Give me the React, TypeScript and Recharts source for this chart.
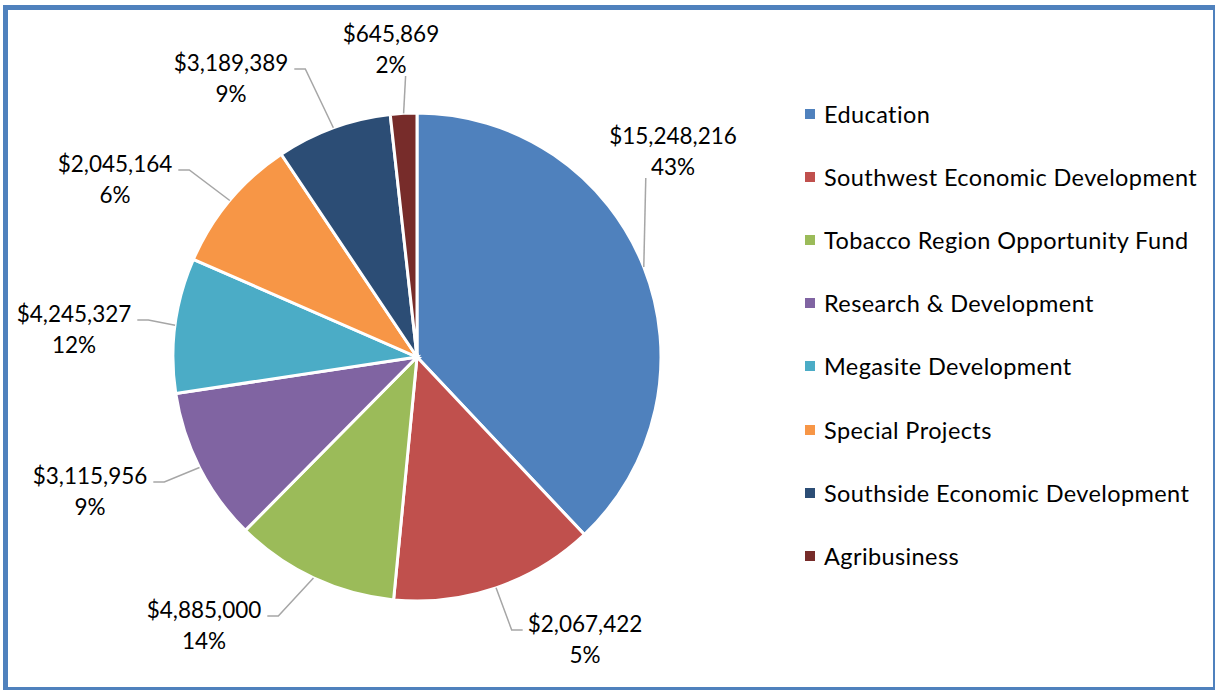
import React from "react";
import { PieChart, Pie, Cell, Legend } from "recharts";

// categories, in drawing order (clockwise from 12 o'clock)
const programs = [
  "Education",
  "Southwest Economic Development",
  "Tobacco Region Opportunity Fund",
  "Research & Development",
  "Megasite Development",
  "Special Projects",
  "Southside Economic Development",
  "Agribusiness",
];

// slice sizes as they are drawn in the picture (share of the circle, %)
const sliceShare = [37.97, 13.56, 10.89, 10.19, 8.94, 9.06, 7.64, 1.75];

// data label texts as printed on the chart
const amountLabels = [
  "$15,248,216",
  "$2,067,422",
  "$4,885,000",
  "$3,115,956",
  "$4,245,327",
  "$2,045,164",
  "$3,189,389",
  "$645,869",
];
const percentLabels = ["43%", "5%", "14%", "9%", "12%", "6%", "9%", "2%"];

const colors = ["#4F81BD", "#C0504D", "#9BBB59", "#8064A2", "#4BACC6", "#F79646", "#2C4D75", "#772C2A"];

const data = programs.map((name, i) => ({
  name,
  value: sliceShare[i],
  amount: amountLabels[i],
  pct: percentLabels[i],
}));

// where each data label sits, relative to the pie centre (excel "best fit")
const labelSpots = [
  { dx: 256, dy: -222, side: "below" },
  { dx: 168, dy: 266, side: "right" },
  { dx: -213, dy: 252, side: "left" },
  { dx: -327, dy: 118, side: "left" },
  { dx: -343, dy: -44, side: "left" },
  { dx: -302, dy: -194, side: "left" },
  { dx: -186, dy: -295, side: "left" },
  { dx: -26, dy: -324, side: "below" },
];

const FONT = "Lato, 'Open Sans', sans-serif";
const FS = 22.5;
const LEGEND_FS = 23.5;
const LINE_GAP = 31;
const RAD = Math.PI / 180;

let ctx: CanvasRenderingContext2D | null = null;
const textWidth = (s: string) => {
  if (!ctx) ctx = document.createElement("canvas").getContext("2d");
  if (!ctx) return s.length * FS * 0.55;
  ctx.font = `${FS}px Lato`;
  return ctx.measureText(s).width;
};

const renderLabel = (props: any) => {
  const { cx, cy, midAngle, outerRadius, index } = props;
  const spot = labelSpots[index];
  const d = data[index];
  const sx = cx + outerRadius * Math.cos(-midAngle * RAD);
  const sy = cy + outerRadius * Math.sin(-midAngle * RAD);
  const lx = cx + spot.dx;
  const ly = cy + spot.dy;
  const w = textWidth(d.amount);
  let pts: number[][];
  if (spot.side === "left") {
    const ex = lx + w / 2 + 6;
    const ey = ly + 7;
    pts = [[sx, sy], [ex + 11, ey], [ex, ey]];
  } else if (spot.side === "right") {
    const ex = lx - w / 2 - 5;
    const ey = ly + 7;
    pts = [[sx, sy], [ex - 11, ey], [ex, ey]];
  } else {
    pts = [[sx, sy], [sx + 2, ly + LINE_GAP + 12]];
  }
  return (
    <g key={`lbl-${index}`}>
      <polyline
        points={pts.map((p) => p.join(",")).join(" ")}
        fill="none"
        stroke="#A6A6A6"
        strokeWidth={1.5}
      />
      <text x={lx} y={ly} textAnchor="middle" dominantBaseline="central" fontFamily={FONT} fontSize={FS} fill="#000">
        {d.amount}
      </text>
      <text x={lx} y={ly + LINE_GAP} textAnchor="middle" dominantBaseline="central" fontFamily={FONT} fontSize={FS} fill="#000">
        {d.pct}
      </text>
    </g>
  );
};

const renderLegend = () => (
  <div style={{ fontFamily: FONT, fontSize: LEGEND_FS, letterSpacing: 0.4, color: "#000" }}>
    {programs.map((p, i) => (
      <div key={p} style={{ height: 63.2, display: "flex", alignItems: "center", whiteSpace: "nowrap" }}>
        <span style={{ width: 10, height: 10, background: colors[i], display: "inline-block", marginRight: 9, flex: "none" }} />
        <span>{p}</span>
      </div>
    ))}
  </div>
);

export default function App() {
  return (
    <div style={{ position: "absolute", left: 0, top: 0, width: 1215, height: 690, background: "#fff" }}>
      <div
        style={{
          position: "absolute",
          left: 3,
          top: 5,
          width: 1212,
          height: 685,
          boxSizing: "border-box",
          borderStyle: "solid",
          borderColor: "#4F81BD",
          borderWidth: "5px 2px 3px 5px",
        }}
      />
      <div style={{ position: "absolute", left: 0, top: 0 }}>
        <PieChart width={1215} height={690} margin={{ top: 0, right: 0, bottom: 0, left: 0 }}>
          <Pie
            data={data}
            dataKey="value"
            nameKey="name"
            cx={417}
            cy={357}
            outerRadius={244}
            startAngle={90}
            endAngle={-270}
            stroke="#fff"
            strokeWidth={3}
            label={renderLabel}
            labelLine={false}
            isAnimationActive={false}
          >
            {data.map((d, i) => (
              <Cell key={d.name} fill={colors[i]} />
            ))}
          </Pie>
          <Legend
            layout="vertical"
            align="right"
            verticalAlign="top"
            content={renderLegend}
            wrapperStyle={{ left: 805, top: 82, width: 410 }}
          />
        </PieChart>
      </div>
    </div>
  );
}
